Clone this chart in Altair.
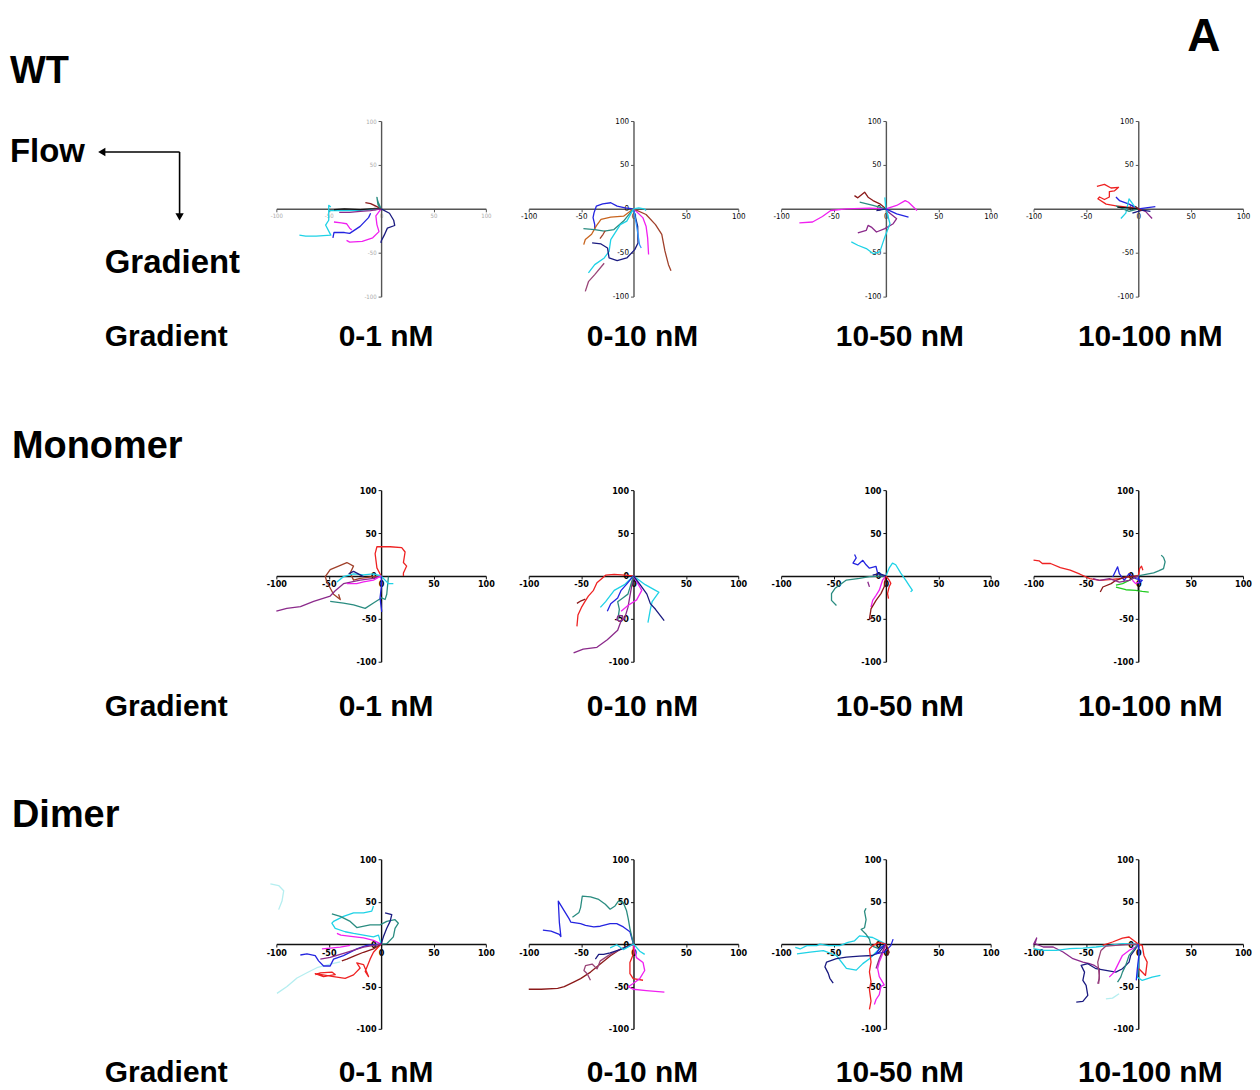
import altair as alt
import pandas as pd

ROWS = ["WT", "Monomer", "Dimer"]
CONCS = ["0-1 nM", "0-10 nM", "10-50 nM", "10-100 nM"]
AXIS_TICKS = [-100, -50, 0, 50, 100]

# ---- track data (x = flow direction, y = gradient direction) ----
WT_0_1 = [
    ("cyan", [0, -10, -25, -40, -50, -50, -53, -48, -55, -62, -72, -78], [0, -1, -2, -2, -2, -13, -18.5, -30, -30.5, -31, -31, -30]),
    ("magenta", [0, -5, -4, -2, -8, -18, -30, -33], [0, -8, -18, -26, -33, -37, -38, -36]),
    ("magenta", [-45, -38, -33, -30, -28], [-15, -16, -17, -22, -24]),
    ("navy", [0, 8, 12, 13, 6, 3, 0, 0], [0, -5, -13, -19, -22, -30, -37, -39]),
    ("blue", [-10, -12, -20, -30, -35, -45, -46], [-5, -10, -20, -28, -27, -27, -33]),
    ("darkred", [-15, -10, -5, 0], [7, 6, 3, 0]),
    ("teal", [0, -3, -4, -3, -1], [0, 8, 13, 5, 0]),
    ("black", [-45, -35, -20, -10, 0], [-1, 0, -1, 0, 0]),
    ("purple", [-40, -30, -20, -10, 0], [-4, -4, -3, -2, 0]),
    ("cyan", [-50, -50, -48], [-2, 4, 2]),
]
WT_0_10 = [
    ("blue", [0, -8, -15.6, -21.7, -29.4, -35.5, -37.7, -38.6, -37, -37], [0, 1, 3, 6.9, 5.7, 3, -4.6, -10, -18, -23.6]),
    ("orange", [0, -9.5, -21.7, -31, -35.5, -40, -46, -47.5], [0, -8.4, -9.5, -12, -19.4, -29, -35, -40.8]),
    ("teal", [-47.8, -37, -27.9, -18.7, -9.5, -1.8, 0], [-22.5, -23.6, -25.5, -23.6, -14, -2.7, 0]),
    ("brown", [-32, -29, -27], [-34, -29, -25]),
    ("cyan", [0, -6.4, -12.6, -21.7, -23.3, -27.9, -37, -43], [0, -14, -18, -35, -48.4, -56, -63.6, -73]),
    ("navy", [-39.5, -31, -24.8, -23.3, -15.6, -6.4, 1.2, 4.3, 4, 0], [-38.9, -40, -44.6, -56, -59, -56, -46.5, -38.9, -20, 0]),
    ("mauve", [-46, -43, -37, -28], [-94, -83, -75, -62]),
    ("magenta", [0, 8.9, 12, 13.5, 14.4], [0, -10, -19.8, -33, -52]),
    ("brown", [0, 12, 21, 27, 30, 33.4, 35.8], [0, -6.5, -18, -29, -48, -63.6, -70.5]),
    ("lightblue", [0, 2.8, 5.8, 7.4], [0, -18, -41, -44.6]),
    ("cyan", [0, 5, 10, 12], [0, 1, 0, -2]),
]
WT_10_50 = [
    ("magenta", [-82.6, -70, -60.6, -52.6, -38, -15.5, 0], [-16, -15, -8.7, -1.9, 0, 0.8, 0]),
    ("magenta", [0, 10.3, 18.4, 21.6, 24.8, 29.7], [0, 3.8, 9.4, 7.5, 3.8, -1.9]),
    ("darkred", [-30, -26.8, -20.3, -17, -12.3, -5.8, 0], [15, 12.5, 18.9, 13.2, 9.4, 5.7, 0]),
    ("teal", [-25, -12.3, 0], [7.5, 3.8, 0]),
    ("purple", [-26.8, -18.7, -17, -13.9, -9, -1, 7, 10.3, 0.6], [-27.5, -24.5, -18.9, -20.8, -26.4, -22.6, -17, -11.3, -1.9]),
    ("cyan", [-33, -26.8, -18.7, -12.3, -5.8, -1, 3.9, 0.6], [-37.7, -41.5, -45.3, -51, -49, -32, -17, -1.9]),
    ("cyan", [-1, 0], [13, 0]),
    ("blue", [0, 10.3, 21.6], [0, -5.7, -9.4]),
    ("navy", [-9, -4, 0], [-2, -1, 0]),
]
WT_10_100 = [
    ("red", [-39.5, -32.3, -26, -18.8, -22.9, -27.6, -27.6, -32.3, -37, -38.6, -30.7, -21.3, -5.6, 0],
     [25.7, 27.8, 23.7, 24.5, 20.4, 19.6, 13.5, 10.6, 13.5, 11.4, 5.3, 3.3, 1.2, 0]),
    ("blue", [-21.3, -18, -8.8, 0, 16.3], [13.5, 9.4, 5.3, 0, 2.4]),
    ("cyan", [-16.6, -11.9, -8.8, -4, 0], [-11, -4.9, 11.4, 3.3, 0]),
    ("purple", [0, 6.9, 13.2], [0, -2.9, -11]),
    ("teal", [-21.3, -8.8, 0], [3.3, -2.9, 0]),
    ("navy", [-5.6, 3.8, 11.6], [-4.9, -1.6, -2.9]),
    ("black", [-20, -10, 0], [2, 1, 0]),
    ("darkred", [-3, 0, 3], [3, 0, -2]),
]
MONO_0_1 = [
    ("red", [0, -4, -5.7, -4, 8.6, 19.7, 22.9, 21.3, 24.4, 21.3, 21.3], [0, 9.4, 25.9, 34, 34, 32.9, 27.9, 15.6, 11.5, 3.3, 0]),
    ("brown", [0, -7.3, -20, -26.3, -29.5, -26.3, -32.7, -40.6, -48.6, -53.3, -51.7, -45.4, -39, -40.6],
     [0, -0.8, -2.9, -4.9, 3.3, 11.5, 15.6, 11.5, 7.4, -0.8, -7, -21.4, -27.5, -21.4]),
    ("purple", [-100, -90, -77, -64.4, -48.6, -43.8, -35.9, -20, -7.3, 0], [-41, -37.8, -35.7, -29.6, -23.4, -17.2, -9, -4.9, -2.9, 0]),
    ("teal", [-48.6, -35.9, -26.3, -15.2, -7.3, 0.6, 3.8, 5.4, 7], [-29.6, -31.6, -33.7, -37.8, -31.6, -25.5, -27.5, -21.4, -0.8]),
    ("cyan", [-42.2, -35.9, -26.3, -16.8, -7.3, 0], [-7, -0.8, 2.5, 1.2, 2.5, 0]),
    ("cyan", [0, 3.8, 7, 11.7], [0, -4.9, -9, -9]),
    ("blue", [0, 0.6, -1, 0.6], [0, -9, -25.5, -41.9]),
    ("magenta", [0, -7.3, -16.8, -23.2, -32.7], [0, -4.9, -7, -9, -9]),
    ("navy", [-31, -26.3, -20, -16.8], [2.5, 5.3, 1.2, -0.8]),
]
MONO_0_10 = [
    ("red", [0, -8.6, -18.4, -26.6, -29.9, -34.9, -38.2, -43.1, -46.4, -49.7, -53, -54],
     [0, 0.9, 1.8, 0.9, -2.7, -8, -16.8, -23.5, -30, -36.7, -45.6, -58.8]),
    ("darkred", [-54, -50, -46], [-32, -29, -27]),
    ("purple", [-57.2, -48, -34.9, -25, -15.1, -11.8, -8.6, -5.3, 0], [-89.8, -85.4, -83.2, -74.3, -63.3, -52.2, -50, -36.7, 0]),
    ("cyan", [-31.6, -26.6, -18.4, -8.6, 0], [-36.7, -30, -16.8, -10.2, 0]),
    ("cyan", [0, 11.2, 21, 24.3, 17.8, 16.1, 13.8], [0, -10.2, -16.8, -19, -30, -38.9, -54.4]),
    ("blue", [-25, -21.7, -15.1, -11.8, -6.9, 0], [-41.2, -32.3, -25.7, -16.8, -10.2, 0]),
    ("teal", [-15.1, -13.5, -15.1, -10.2, -5.3, 0], [-52.2, -38.9, -30, -25.7, -21.2, 0]),
    ("magenta", [0, 7.9, 3, -5.3, -11.8], [0, -16.8, -27.9, -34.5, -41.2]),
    ("navy", [0, 6.3, 12.8, 16.1, 21, 29.3], [0, -10.2, -21.2, -32.3, -38.9, -52.2]),
    ("purple", [-13.5, -10.5, -10, -13, -16, -15, -13.5], [-46, -46.5, -50, -53, -51, -47, -46]),
]
MONO_10_50 = [
    ("blue", [-29.9, -28.3, -31.4, -26.7, -22, -18.9, -15.7, -9.4, -7.9, -3.1, 0], [25, 21, 15, 13, 18.2, 13, 9, 11, 3.2, 0, 0]),
    ("teal", [-47.2, -51.9, -51.9, -48.7, -37.7, -25.2, -15.7, 0], [-34.5, -28.5, -20.6, -14.7, -4.8, -2.8, -0.8, 0]),
    ("cyan", [0, 3.1, 6.3, 9.4, 14.2, 18.9, 22, 25.2, 23.6], [0, 9, 15, 13, 3.2, -4.8, -10.7, -16.6, -18.6]),
    ("magenta", [0, -3.1, -6.3, -9.4, -12.6, -14.2], [0, -4.8, -16.6, -22.6, -28.5, -36.4]),
    ("darkred", [0, -1.6, -4.7, -9.4, -14.2, -15.7, -12.6], [0, -12.7, -20.6, -28.5, -38.4, -50.3, -48.3]),
    ("purple", [-17.3, -15.7], [-6.7, -12.7]),
    ("red", [0, 3.1, 4.7, 3.1, 1.6, 2.5], [0, -4.8, -8.7, -12.7, -20.6, -26.5]),
    ("navy", [-12.6, -6.3, 0], [1, 2.8, 0]),
]
MONO_10_100 = [
    ("red", [-100, -94.7, -91.6, -83.8, -74.4, -65, -55.6, -46.3, -36.9, -27.5, -18.1, -8.8, 0],
     [18.4, 17.6, 14.5, 14.5, 9.8, 6.7, 2, -3.1, -5.1, -4.3, -3.1, -1.2, 0]),
    ("red", [0, 1.3, 3.1, 4.4], [0, 8.6, 11.4, 6.7]),
    ("teal", [0, 8.4, 14.7, 19.4, 24.1, 25.6, 24.1, 21.9], [0, 2, 3.5, 5.9, 8.6, 16.5, 21.6, 24.3]),
    ("green", [-21.3, -11.9, -2.5, 3.8, 10], [-12.9, -16.1, -16.9, -18, -18.8]),
    ("green", [-21.3, -15, 0], [-10.8, -9, 0]),
    ("blue", [-24.4, -19.7, -18.1, -13.4, -8.8, -2.5, 3.8, 0.6, 0], [-1.2, 10.6, 2.7, -5.1, 2.7, -3.1, -5.1, -9, 0]),
    ("darkred", [-36.3, -33.8, -25.9, -21.3, -11.9, 0], [-18.8, -12.9, -9, -5.1, -1.2, 0]),
    ("purple", [-43.1, -36.9, -27.5, -18.1, -8.8, 0], [-3.1, -5.1, -3.1, -7.1, -5.1, 0]),
    ("magenta", [-5.6, -2.5, 0.6], [-5.1, -9, -7.1]),
    ("black", [0, 0], [-9, -16.9]),
]
DIMER_0_1 = [
    ("lightcyan", [-105.7, -97.8, -93, -94.6, -97.8], [71, 69, 62.8, 50.7, 40.6]),
    ("lightcyan", [-99.4, -89.8, -80.3, -70.8, -61.3, -48.6, -39], [-58.2, -50.1, -40, -33.9, -27.9, -23.8, -21]),
    ("cyan", [-7.3, -8.9, -16.8, -26.3, -35.9, -45.4, -47, -43.8, -34.3, -26.3, -16.8, -7.3, -2.5, 0],
     [44.8, 38.8, 36.8, 36.8, 32.7, 26.7, 24.6, 18.6, 14.5, 12.5, 10.5, 8.5, 10.5, 0]),
    ("teal", [-47, -39, -29.5, -23.2, -10.5, -1, 5.4, 13.3, 16.5, 13.3, 11.7, 5.4, 0],
     [35.6, 32.7, 26.7, 19.4, 22.6, 22.6, 26.7, 28.7, 24.6, 18.6, 8.5, 0.4, 0]),
    ("navy", [3.8, 10.2, 8.6, 5.4, 2.2, 0], [36.8, 34.7, 26.7, 18.6, 8.5, 0]),
    ("magenta", [-42.2, -38.4, -32.7, -24.8, -16.8, -7.3, 0], [12.5, 10.5, 9.7, 8.5, 7.3, 4.4, 0]),
    ("magenta", [-56.5, -48.6, -39, -29.5], [-5.7, -4.8, -3.6, -1.6]),
    ("blue", [-77.1, -70.8, -62.9, -59.7, -54.9, -48.6, -45.4, -35.9, -23.2, -13.7, 0],
     [-12.9, -11.7, -13.7, -19.8, -25.9, -25.9, -17.8, -13.7, -5.7, -1.6, 0]),
    ("red", [-62.9, -58, -47, -43.8, -55, -62.9, -45.4, -34.3, -26.3, -20, -23.2, -16.8, -12, -15.2, -10.5, -7.3, 0],
     [-36, -34, -33, -36, -38.4, -35, -38.4, -40.4, -36.4, -28.3, -22.2, -24.2, -38.4, -32.3, -17.8, -9.7, 0]),
    ("darkred", [-37.5, -32.7, -24.8, -16.8, -7.3, 0], [-19.8, -17.8, -13.7, -9.7, -5.7, 0]),
    ("purple", [-58, -48.6, -32.7, -16.8, 0], [-17.8, -15.8, -9.7, -3.6, 0]),
]
DIMER_0_10 = [
    ("blue", [-86.5, -78.7, -70.8, -69.3, -70.8, -71.8, -66.1, -61.4, -59.9, -50.5, -45.8, -37.9, -31.7, -22.3, -16, -9.7, -3.4, 0],
     [16.4, 15.2, 11.4, 8.8, 25.9, 50.7, 39.2, 29.7, 25.9, 24, 22.1, 20.2, 21, 24, 24, 20.2, 14.5, 0]),
    ("teal", [-58.3, -52, -50.5, -48.9, -41, -33.2, -26.9, -22.3, -17.6, -14.4, -9.7, -6.6, -5, -3.4, 0],
     [31.6, 37.3, 43, 56.4, 55.6, 52.6, 46.9, 41.1, 44.9, 50.7, 48.8, 39.2, 29.7, 18.3, 0]),
    ("darkred", [-100, -88.1, -72.4, -66.1, -56.7, -50.5, -41, -31.7, -22.3, -12.9, 0],
     [-53.3, -53.3, -52.2, -50.3, -44.6, -40.8, -33.1, -23.6, -14.1, -6.5, 0]),
    ("mauve", [-41.1, -44.2, -47.3, -45.8, -39.5, -34.8, -31.7, -22.3, -9.7], [-42.7, -35, -31.2, -25.5, -23.6, -29.3, -19.8, -12.2, -4.6]),
    ("navy", [-36.4, -33.2, -28.5, -22.3, -12.9, 0], [-17.9, -12.2, -12.2, -10.3, -6.5, 0]),
    ("red", [0, -0.3, -3.4, -3.4, -0.3, 9.1], [0, -12.2, -21.7, -35, -40.8, -42.7]),
    ("magenta", [0, 2.8, 9.1, 10.7, 6, -0.3, -5, -0.3, 12.2, 29.5], [0, -16, -21.7, -31.2, -40.8, -46.5, -50.3, -53.3, -54.9, -56.8]),
    ("cyan", [-22.3, -16, -9.7, 0, 6, 10.7], [-4.6, -0.8, -6.5, 0, -8.4, -12.2]),
]
DIMER_10_50 = [
    ("cyan", [-86.5, -81.8, -75.5, -66, -62.9, -55, -44, -36.2, -29.9, -25.2, -18.9, -12.6, -6.3, 0],
     [-3.8, -5.8, -1.9, -1.9, 0, -1.9, -1.9, 1.9, 3.8, 9.6, 8.8, 7.7, 3.8, 0]),
    ("cyan", [-84.9, -72.3, -59.7, -47.2, -37.7, -28.3, -22, -15.7, -6.3, 0], [-11.5, -9.6, -7.7, -13.5, -28.8, -30.8, -23.1, -17.3, -5.8, 0]),
    ("teal", [-18.9, -20.4, -18.9, -20.4, -23.6, -18.9, -15.7, -14.2, -6.3, 0], [42.3, 38.5, 28.8, 19.2, 17.3, 11.5, 5.8, -1.9, -5.8, 0]),
    ("navy", [-50.3, -53.5, -55, -58.2, -56.6, -47.2, -37.7, -25.2, -12.6, -6.3, 0],
     [-46.2, -40.4, -34.6, -26.9, -21.2, -17.3, -15.4, -14.2, -13.5, -9.6, 0]),
    ("red", [-15.7, -14.2, -15.7, -14.2, -15.7, -14.2, -15.7, -12.6, -6.3, 0], [-76.9, -67.3, -53.8, -44.2, -32.7, -21.2, -5.8, -1.9, 1.9, 0]),
    ("magenta", [-11, -9.4, -6.3, -4.7, -1.6, -6.3, -7.9, -6.3, -3.1, 0], [-71.2, -65.4, -59.6, -50, -48.1, -38.5, -28.8, -21.2, -11.5, 0]),
    ("blue", [0, -6.3, -9.4, -1.6, 4.7, 6.9], [0, -5.8, -11.5, -9.6, -1.9, 5.8]),
    ("purple", [0, -6.3, -9.4], [0, -17.3, -28.8]),
    ("darkred", [0, 3.1, 1.6], [0, -9.6, -13.5]),
]
DIMER_10_100 = [
    ("purple", [-100.2, -97, -98.6, -90.7, -81.2, -71.8, -62.4, -52.9, -46.6, -41.9, -37.2, -37.2, -38.7],
     [-0.8, 7.1, 0.4, -3.5, -3.5, -9.4, -17.3, -21.3, -23.2, -25.2, -29.1, -40.9, -46.9]),
    ("cyan", [-100.2, -90.7, -78.1, -65.5, -52.9, -40.3, -27.7, -15.1, 0], [-5.5, -7.5, -7.5, -5.5, -4.7, -3.5, -1.6, 0.4, 0]),
    ("cyan", [0, 0.6, -0.9, 3.8, 13.2, 21.1], [0, -17.3, -39, -42.9, -39, -37]),
    ("navy", [-59.2, -52.9, -48.2, -49.8, -52.9, -51.3, -54.5, -48.2, -40.3, -30.9, -21.4, -15.1, -8.8, -7.2, -2.5, 0],
     [-68.5, -67.7, -60.6, -48.8, -42.9, -33.1, -25.2, -23.2, -29.1, -31.1, -33.1, -29.1, -21.3, -13.4, -5.5, 0]),
    ("mauve", [-37.8, -37.2, -38.7, -35.6, -30.9, -21.4, -12, 0], [-46.9, -37, -21.3, -7.5, -2.4, -1.6, -0.8, 0]),
    ("red", [-34, -24.6, -15.1, -8.8, -2.5, 0, 3.8, 5.4, 8.5, 6.9, 0.6], [-1.6, 2.4, 7.1, 8.3, 2.4, 0, -1.6, -13.4, -21.3, -37, -29.1]),
    ("magenta", [-27.7, -23, -18.3, -15.1, -8.8, -2.5, 0], [-39, -33.1, -21.3, -13.4, -7.5, -3.5, 0]),
    ("teal", [-19.8, -16.7, -15.1, -12, -8.8, 0], [-44.9, -39, -33.1, -25.2, -13.4, 0]),
    ("lightcyan", [-30.9, -24.6, -18.3], [-64.6, -63.8, -58.7]),
    ("blue", [0, 0.6, -0.9, -1.9], [0, -13.4, -29.1, -42.9]),
]

TRACKS = [
    [WT_0_1, WT_0_10, WT_10_50, WT_10_100],
    [MONO_0_1, MONO_0_10, MONO_10_50, MONO_10_100],
    [DIMER_0_1, DIMER_0_10, DIMER_10_50, DIMER_10_100],
]

# ---- styles ----
PALETTE = {
    "cyan": "#1ED2E6", "magenta": "#F020F0", "navy": "#1A1A80", "blue": "#2424E0",
    "purple": "#8B2A8B", "darkred": "#8B1A1A", "teal": "#2A8C80", "red": "#EE2222",
    "brown": "#A0402A", "orange": "#C8641E", "green": "#22CC22", "lightcyan": "#B5EEF0",
    "mauve": "#994477", "black": "#111111", "lightblue": "#3399FF",
}
FONT = "Liberation Sans"
TICK_FONT = "Liberation Sans Narrow, DejaVu Sans Condensed, Liberation Sans"
W = 210
HEIGHTS = [176, 172, 170]
ROW_STEP = 370            # top of one row of panels to the top of the next
LABEL_DX = [110, 114, 119, 117]
LABEL_Y = [226, 226, 223]


def panel_df(tracks):
    recs = []
    for k, (col, xs, ys) in enumerate(tracks):
        for i, (x, y) in enumerate(zip(xs, ys)):
            recs.append({"track": k, "i": i, "x": x, "y": y, "col": col})
    return pd.DataFrame(recs)


def panel(r, c):
    H = HEIGHTS[r]
    faint = (r == 0 and c == 0)
    dom = "#555555" if r == 0 else "#111111"
    if faint:
        lsize, lcol, lweight = 6, "#aaaaaa", "normal"
    elif r == 0:
        lsize, lcol, lweight = 8, "#000000", "normal"
    else:
        lsize, lcol, lweight = 9, "#000000", "bold"
    common = dict(
        values=AXIS_TICKS, grid=False, title=None, labelFont=TICK_FONT,
        labelFontSize=lsize, labelColor=lcol, labelFontWeight=lweight,
        domainColor=dom, domainWidth=1.4, tickColor=dom, tickSize=3, tickWidth=1,
        labelExpr="'' + datum.value", labelFlush=False,
    )
    xax = alt.Axis(orient="bottom", offset=-H / 2, labelPadding=1, **common)
    yax = alt.Axis(orient="left", offset=-W / 2, labelPadding=2, **common)
    sc = alt.Scale(domain=[-100, 100], nice=False, zero=False)
    lines = alt.Chart(panel_df(TRACKS[r][c])).mark_line(strokeWidth=1.3, strokeJoin="round").encode(
        x=alt.X("x:Q", scale=sc, axis=xax),
        y=alt.Y("y:Q", scale=sc, axis=yax),
        color=alt.Color("col:N", scale=alt.Scale(domain=list(PALETTE), range=list(PALETTE.values())), legend=None),
        detail="track:N",
        order="i:Q",
    )
    label = alt.Chart(pd.DataFrame({"t": [CONCS[c]]})).mark_text(
        font=FONT, fontWeight="bold", fontSize=30, align="center", baseline="alphabetic", color="#000"
    ).encode(text="t:N", x=alt.value(LABEL_DX[c]), y=alt.value(LABEL_Y[r]))
    return alt.layer(lines, label).properties(width=W, height=H)


def txt(s, x, y, size):
    return alt.Chart(pd.DataFrame({"t": [s]})).mark_text(
        font=FONT, fontWeight="bold", fontSize=size, align="left", baseline="alphabetic", color="#000"
    ).encode(text="t:N", x=alt.value(x), y=alt.value(y))


one = pd.DataFrame({"t": ["arrow"]})
h_rule = alt.Chart(one).mark_rule(color="#000", strokeWidth=1.6).encode(x=alt.value(94), x2=alt.value(172), y=alt.value(143))
v_rule = alt.Chart(one).mark_rule(color="#000", strokeWidth=1.6).encode(x=alt.value(172), y=alt.value(143), y2=alt.value(206))
h_head = alt.Chart(one).mark_point(shape="triangle-left", filled=True, size=70, color="#000", opacity=1).encode(
    x=alt.value(94), y=alt.value(143))
v_head = alt.Chart(one).mark_point(shape="triangle-down", filled=True, size=70, color="#000", opacity=1).encode(
    x=alt.value(172), y=alt.value(208))

left = alt.layer(
    txt(ROWS[0], 2, 74, 38),
    txt("Flow", 2, 153, 33),
    h_rule, v_rule, h_head, v_head,
    txt("Gradient", 97, 264, 33),
    txt("Gradient", 97, 338, 30),
    txt(ROWS[1], 4, 450, 38),
    txt("Gradient", 97, 708, 30),
    txt(ROWS[2], 4, 820, 38),
    txt("Gradient", 97, 1075, 30),
).properties(width=269, height=1078)

header = txt("A", 913, 42, 46).properties(width=4 * W + 3 * 43, height=112)

# with flush bounds a nested row counts as zero-height, so spacing is top-to-top
rows = alt.vconcat(
    *[alt.hconcat(*[panel(r, c) for c in range(4)], spacing=43, bounds="flush") for r in range(3)],
    spacing=ROW_STEP, bounds="flush",
)
right = alt.vconcat(header, rows, spacing=0, bounds="flush")

chart = alt.hconcat(left, right, spacing=0, bounds="flush").properties(padding=0).configure_view(stroke=None)

chart.save("out.html", embed_options={"renderer": "svg", "actions": False})
